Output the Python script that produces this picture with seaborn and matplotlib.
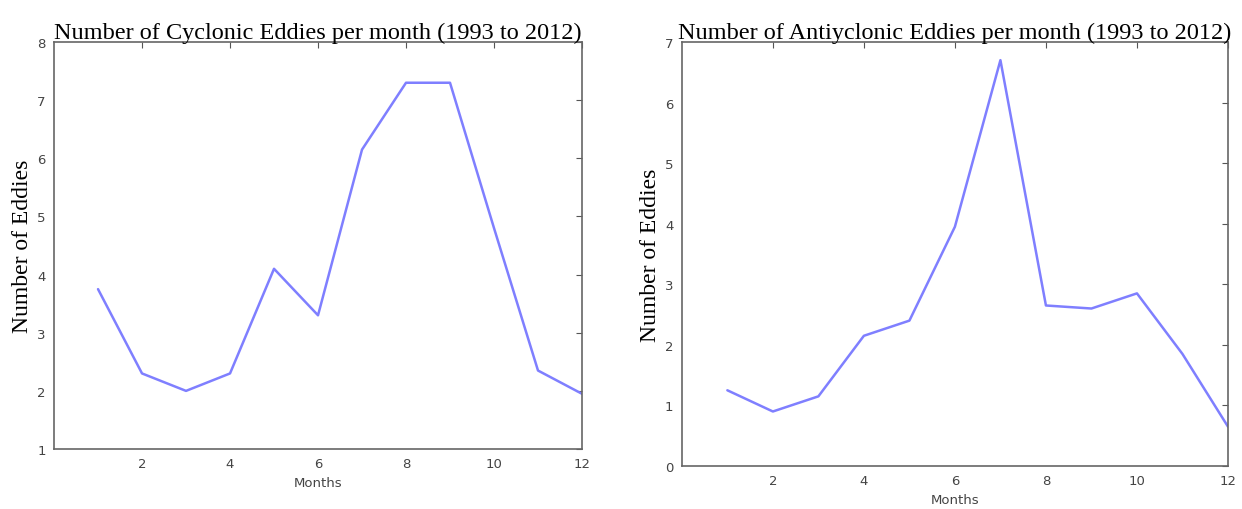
import numpy as np
import pandas as pd
import matplotlib
matplotlib.use('Agg')
import matplotlib.pyplot as plt
import seaborn as sns

# Data
months = [1, 2, 3, 4, 5, 6, 7, 8, 9, 10, 11, 12]
cyclonic = [3.75, 2.3, 2.0, 2.3, 4.1, 3.3, 6.15, 7.3, 7.3, 4.8, 2.35, 1.95]
anticyclonic = [1.25, 0.9, 1.15, 2.15, 2.4, 3.95, 6.7, 2.65, 2.6, 2.85, 1.85, 0.65]

cyc_title = 'Number of Cyclonic Eddies per month (1993 to 2012)'
anti_title = 'Number of Antiyclonic Eddies per month (1993 to 2012)'

sns.set_theme(style='white')
plt.rcParams['font.family'] = ['DejaVu Sans']

df = pd.DataFrame({'month': months, 'cyclonic': cyclonic, 'anticyclonic': anticyclonic})

fig = plt.figure(figsize=(12.42, 5.10), dpi=100)
ax1 = fig.add_axes([0.0435, 0.1176, 0.4251, 0.798])
ax2 = fig.add_axes([0.549, 0.0843, 0.4397, 0.8314])

line_color = '#7f7fff'
serif = ['Liberation Serif', 'DejaVu Serif']


def style_axes(ax, ylim, yticks, title):
    ax.set_xlim(0, 12)
    ax.set_ylim(*ylim)
    ax.set_xticks([2, 4, 6, 8, 10, 12])
    ax.set_yticks(yticks)
    ax.tick_params(direction='in', top=True, right=True, length=4, width=0.8,
                   colors='#555555', labelsize=9.5, labelcolor='#444444', pad=6)
    for s in ax.spines.values():
        s.set_color('#666666')
        s.set_linewidth(1.2)
    ax.set_title(title, family=serif, fontsize=17.5, pad=3, color='black')
    ax.set_ylabel('Number of Eddies', family=serif, fontsize=17, color='black', labelpad=3)
    ax.set_xlabel('Months', fontsize=9.5, color='#444444', labelpad=4)


sns.lineplot(data=df, x='month', y='cyclonic', ax=ax1, color=line_color, linewidth=1.8)
style_axes(ax1, (1, 8), range(1, 9), cyc_title)

sns.lineplot(data=df, x='month', y='anticyclonic', ax=ax2, color=line_color, linewidth=1.8)
style_axes(ax2, (0, 7), range(0, 8), anti_title)

fig.savefig('out.png', dpi=100)
